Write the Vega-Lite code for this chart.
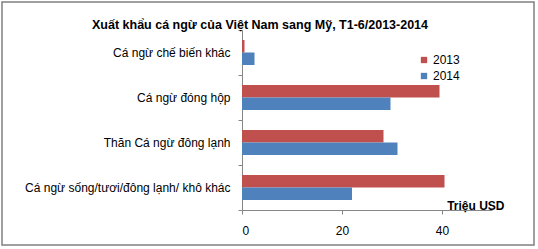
{
  "$schema": "https://vega.github.io/schema/vega-lite/v6.json",
  "autosize": "none",
  "width": 532,
  "height": 243,
  "padding": {"left": 2, "top": 2, "right": 4, "bottom": 4},
  "background": "white",
  "config": {
    "view": {"stroke": "#808080", "strokeWidth": 1.5},
    "font": "Liberation Sans"
  },
  "title": {
    "text": "Xuất khẩu cá ngừ của Việt Nam sang Mỹ, T1-6/2013-2014",
    "font": "Liberation Sans",
    "fontSize": 12.5,
    "fontWeight": "bold",
    "color": "#000000",
    "anchor": "middle",
    "frame": "group",
    "dx": -8,
    "dy": 21,
    "offset": -24,
    "baseline": "alphabetic"
  },
  "data": {
    "values": [
      {"category": "Cá ngừ chế biến khác", "year": "2013", "value": 0.5},
      {"category": "Cá ngừ chế biến khác", "year": "2014", "value": 2.5},
      {"category": "Cá ngừ đóng hộp", "year": "2013", "value": 39.5},
      {"category": "Cá ngừ đóng hộp", "year": "2014", "value": 29.7},
      {"category": "Thăn Cá ngừ đông lạnh", "year": "2013", "value": 28.3},
      {"category": "Thăn Cá ngừ đông lạnh", "year": "2014", "value": 31.1},
      {"category": "Cá ngừ sống/tươi/đông lạnh/ khô khác", "year": "2013", "value": 40.5},
      {"category": "Cá ngừ sống/tươi/đông lạnh/ khô khác", "year": "2014", "value": 22.0}
    ]
  },
  "mark": {"type": "bar"},
  "encoding": {
    "y": {
      "field": "category",
      "type": "nominal",
      "sort": ["Cá ngừ chế biến khác", "Cá ngừ đóng hộp", "Thăn Cá ngừ đông lạnh", "Cá ngừ sống/tươi/đông lạnh/ khô khác"],
      "scale": {"range": [28, 208], "paddingInner": 0, "paddingOuter": 0},
      "axis": {
        "title": null,
        "offset": -240,
        "tickBand": "extent",
        "tickSize": 4,
        "tickColor": "#868686",
        "domainColor": "#868686",
        "labelPadding": 8,
        "labelFontSize": 12,
        "labelLimit": 300,
        "labelColor": "#000000",
        "labelFont": "Liberation Sans"
      }
    },
    "yOffset": {
      "field": "year",
      "type": "nominal",
      "sort": ["2013", "2014"],
      "scale": {"paddingOuter": 0.8, "paddingInner": 0}
    },
    "x": {
      "field": "value",
      "type": "quantitative",
      "scale": {"domain": [0, 50], "range": [240, 490], "nice": false},
      "axis": {
        "title": "Triệu USD",
        "titleX": 502,
        "titleY": -1,
        "titleAlign": "right",
        "titleBaseline": "alphabetic",
        "titleFontSize": 12,
        "titleFontWeight": "bold",
        "titleColor": "#000000",
        "titleFont": "Liberation Sans",
        "offset": -35,
        "values": [0, 20, 40],
        "grid": false,
        "tickSize": 4,
        "tickColor": "#868686",
        "domainColor": "#868686",
        "labelPadding": 11,
        "labelFontSize": 12,
        "labelColor": "#000000",
        "labelFont": "Liberation Sans"
      }
    },
    "color": {
      "field": "year",
      "type": "nominal",
      "scale": {"domain": ["2013", "2014"], "range": ["#C0504D", "#4F81BD"]},
      "legend": {
        "title": null,
        "orient": "none",
        "legendX": 416,
        "legendY": 52,
        "symbolType": "square",
        "symbolSize": 40,
        "symbolStrokeWidth": 0,
        "labelFontSize": 12,
        "labelColor": "#000000",
        "labelFont": "Liberation Sans",
        "labelOffset": 3,
        "rowPadding": 4,
        "padding": 0
      }
    }
  }
}
